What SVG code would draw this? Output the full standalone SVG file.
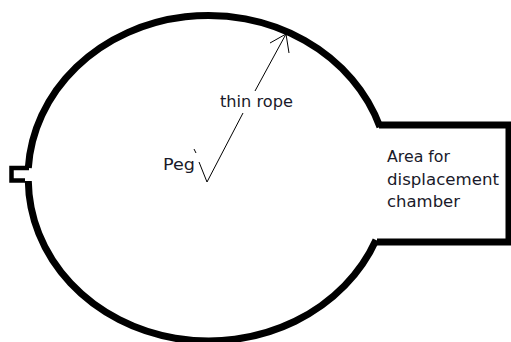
<svg xmlns="http://www.w3.org/2000/svg" width="511" height="342" viewBox="0 0 511 342">
<style>
.w{fill:none;stroke:#000;stroke-width:7}
.t{fill:none;stroke:#000;stroke-width:1}
text{font-family:"DejaVu Sans",Verdana,sans-serif;font-size:15px;fill:#1a1a2a}
</style>
<rect width="511" height="342" fill="#fff"/>
<g id="chamber">
<path class="w" d="M379 125L509 125V242H377"/>
<path class="w" d="M380 127A180.500 162 0 0 0 28.300 168"/>
<path class="w" d="M28.300 181A180.500 162 0 0 0 376 240"/>
</g>
<g id="notch">
<path d="M29 168H11.500V180.500H25" fill="none" stroke="#000" stroke-width="4.500"/>
</g>
<g id="connectors">
<path class="t" d="M207 182L243 113M255 91L286 34M207 182L199 162M196 153L194 149M286 34L270 43M286 34L289 53"/>
</g>
<g id="labels">
<text x="220" y="107" textLength="73" lengthAdjust="spacingAndGlyphs">thin rope</text>
<text x="163" y="170" textLength="32" lengthAdjust="spacingAndGlyphs">Peg</text>
<text x="387" y="162" textLength="63" lengthAdjust="spacingAndGlyphs">Area for</text>
<text x="387" y="185" textLength="112" lengthAdjust="spacingAndGlyphs">displacement</text>
<text x="387" y="207" textLength="73" lengthAdjust="spacingAndGlyphs">chamber</text>
</g>
</svg>
